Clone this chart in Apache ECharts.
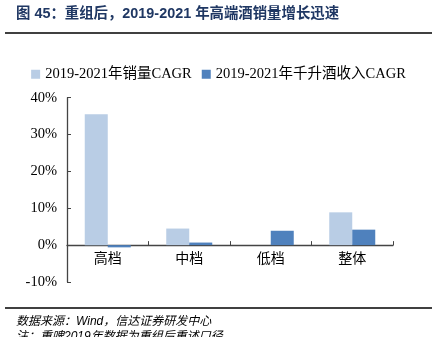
<!DOCTYPE html>
<html><head><meta charset="utf-8">
<script src="https://cdn.jsdelivr.net/npm/echarts@6/dist/echarts.min.js"></script>
<style>html,body{margin:0;padding:0;background:#fff}#c{width:437px;height:337px}</style>
</head><body><div id="c"></div>
<script>
var categories = ['高档', '中档', '低档', '整体'];
var volumeCAGR = [35.5, 4.5, 0, 8.9];
var revenuePerKlCAGR = [-0.6, 0.7, 3.9, 4.2];
var seriesNames = ['2019-2021年销量CAGR', '2019-2021年千升酒收入CAGR'];
var yTicks = { min: -10, max: 40, interval: 10 };
var titleText = '图 45：重组后，2019-2021 年高端酒销量增长迅速';
var sourceText = '数据来源：Wind，信达证券研发中心';
var noteText = '注：重啤2019年数据为重组后重述口径';

var serif = "'Liberation Serif','Noto Sans CJK SC',serif";
var chart = echarts.init(document.getElementById('c'), null, { renderer: 'canvas' });
chart.setOption({
  animation: false,
  backgroundColor: '#fff',
  graphic: [
    { type: 'text', left: 16, top: 7, style: { text: titleText, font: "bold 14.4px 'Liberation Sans','Noto Sans CJK SC',sans-serif", fill: '#1f3763' } },
    { type: 'line', shape: { x1: 5, y1: 33, x2: 432, y2: 33 }, style: { stroke: '#000', lineWidth: 1.5 } },
    { type: 'line', shape: { x1: 5, y1: 308, x2: 432, y2: 308 }, style: { stroke: '#000', lineWidth: 1.5 } },
    { type: 'text', left: 16, top: 316, style: { text: sourceText, font: "italic 12px 'Liberation Sans','Noto Sans CJK SC',sans-serif", fill: '#000' } },
    { type: 'text', left: 16, top: 331, style: { text: noteText, font: "italic 12px 'Liberation Sans','Noto Sans CJK SC',sans-serif", fill: '#000' } }
  ],
  legend: {
    top: 62, left: 'center',
    itemWidth: 9, itemHeight: 9, itemGap: 10,
    icon: 'rect',
    textStyle: { fontFamily: serif, fontSize: 14.5, color: '#000' },
    data: seriesNames
  },
  grid: { left: 67, right: 44, top: 97.7, bottom: 55, containLabel: false },
  xAxis: {
    type: 'category', data: categories,
    offset: -36.86,
    axisLine: { onZero: false, lineStyle: { color: '#444', width: 1.3 } },
    axisTick: { show: true, inside: true, length: 4, lineStyle: { color: '#444' } },
    axisLabel: { fontFamily: serif, fontSize: 14, color: '#000', margin: 7 }
  },
  yAxis: {
    type: 'value', min: yTicks.min, max: yTicks.max, interval: yTicks.interval,
    axisLine: { show: true, lineStyle: { color: '#444', width: 1.3 } },
    axisTick: { show: true, inside: true, length: 4, lineStyle: { color: '#444' } },
    splitLine: { show: false },
    axisLabel: { fontFamily: serif, fontSize: 14.5, color: '#000', margin: 10, formatter: '{value}%' }
  },
  series: [
    { name: seriesNames[0], type: 'bar', data: volumeCAGR, barWidth: 23, barGap: '0%', itemStyle: { color: '#b9cde5' } },
    { name: seriesNames[1], type: 'bar', data: revenuePerKlCAGR, barWidth: 23, barGap: '0%', itemStyle: { color: '#4f81bd' } }
  ]
});
</script></body></html>
